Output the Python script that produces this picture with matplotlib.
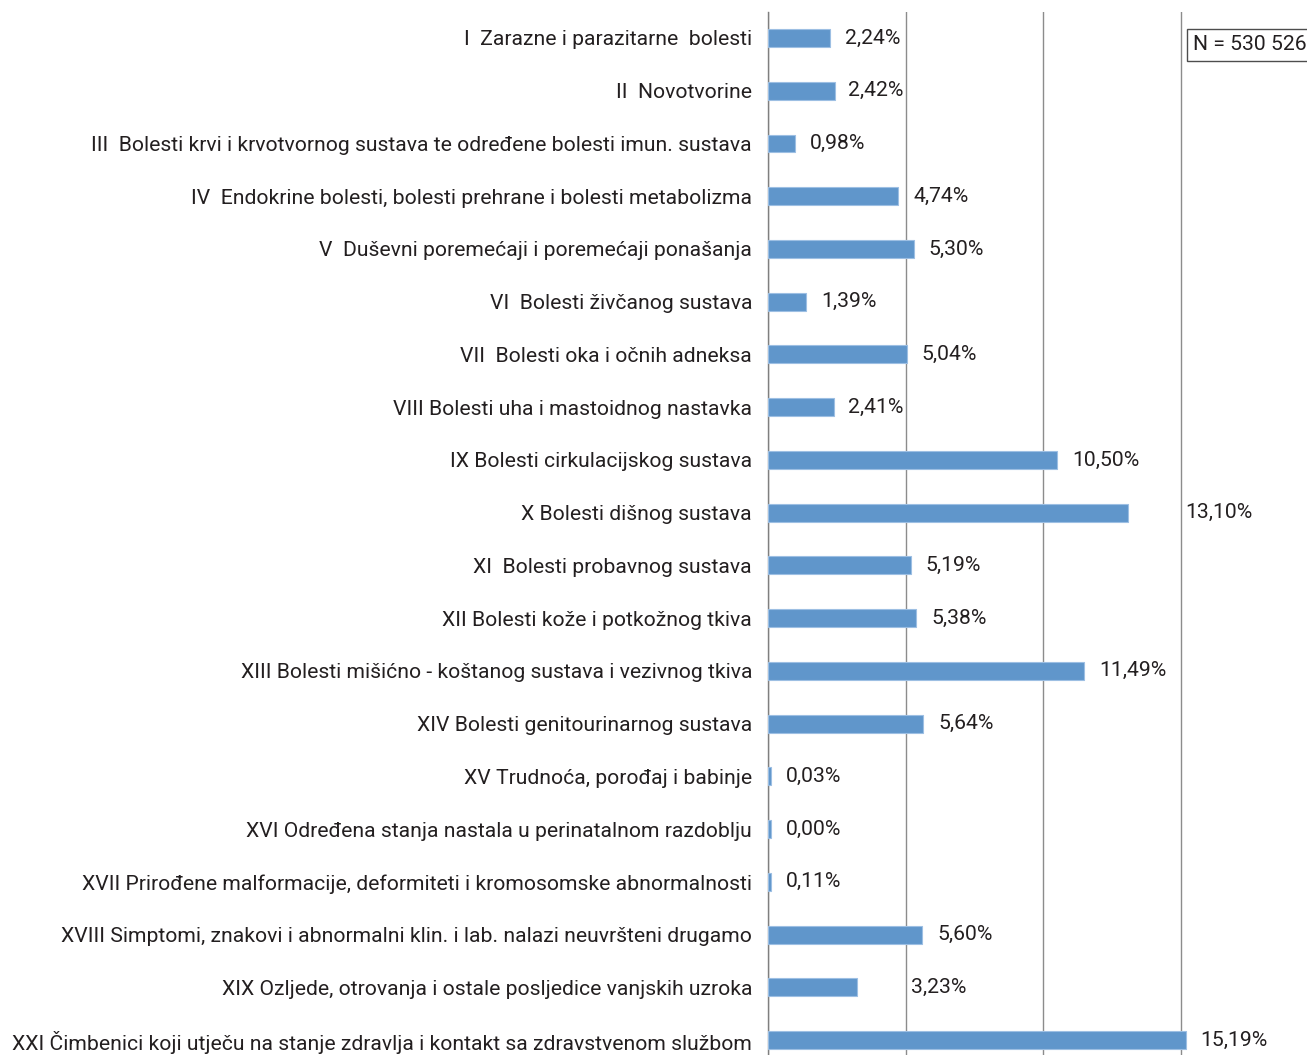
import matplotlib
matplotlib.use("Agg")
import matplotlib.pyplot as plt
from matplotlib.ticker import FixedLocator

plt.rcParams['font.family'] = ['Roboto', 'DejaVu Sans']

categories = [
    "I  Zarazne i parazitarne  bolesti",
    "II  Novotvorine",
    "III  Bolesti krvi i krvotvornog sustava te određene bolesti imun. sustava",
    "IV  Endokrine bolesti, bolesti prehrane i bolesti metabolizma",
    "V  Duševni poremećaji i poremećaji ponašanja",
    "VI  Bolesti živčanog sustava",
    "VII  Bolesti oka i očnih adneksa",
    "VIII Bolesti uha i mastoidnog nastavka",
    "IX Bolesti cirkulacijskog sustava",
    "X Bolesti dišnog sustava",
    "XI  Bolesti probavnog sustava",
    "XII Bolesti kože i potkožnog tkiva",
    "XIII Bolesti mišićno - koštanog sustava i vezivnog tkiva",
    "XIV Bolesti genitourinarnog sustava",
    "XV Trudnoća, porođaj i babinje",
    "XVI Određena stanja nastala u perinatalnom razdoblju",
    "XVII Prirođene malformacije, deformiteti i kromosomske abnormalnosti",
    "XVIII Simptomi, znakovi i abnormalni klin. i lab. nalazi neuvršteni drugamo",
    "XIX Ozljede, otrovanja i ostale posljedice vanjskih uzroka",
    "XXI Čimbenici koji utječu na stanje zdravlja i kontakt sa zdravstvenom službom",
]
values = [2.24, 2.42, 0.98, 4.74, 5.30, 1.39, 5.04, 2.41, 10.50, 13.10,
          5.19, 5.38, 11.49, 5.64, 0.03, 0.00, 0.11, 5.60, 3.23, 15.19]
value_labels = ["2,24%", "2,42%", "0,98%", "4,74%", "5,30%", "1,39%", "5,04%", "2,41%",
                "10,50%", "13,10%", "5,19%", "5,38%", "11,49%", "5,64%", "0,03%",
                "0,00%", "0,11%", "5,60%", "3,23%", "15,19%"]
grid_ticks = [0, 5, 10, 15]
n_text = "N = 530 526"

W, H = 1307, 1055
FS = 15.2
fig = plt.figure(figsize=(W / 100, H / 100), dpi=100)
ax_left = 768 / W
ax_top = 1 - 12 / H
ax = fig.add_axes([ax_left, 0, 1 - ax_left, ax_top])

bar_color = "#6096CB"
y = list(range(len(categories)))
min_vis = 0.12
draw_vals = [max(v, min_vis) for v in values]
ax.barh(y, draw_vals, height=0.34, color=bar_color, edgecolor="#9dbfe3", linewidth=0.8, zorder=3)

ax.set_xlim(0, (W - 768) / 27.5)
ax.set_ylim(19.284, -0.493)

ax.xaxis.set_major_locator(FixedLocator(grid_ticks))
ax.grid(axis="x", color="#8c8c8c", linewidth=1.0, zorder=0)
ax.tick_params(axis="x", length=0, labelbottom=False)
ax.set_yticks(y)
ax.set_yticklabels(categories, fontsize=FS, color="#231f20")
ax.tick_params(axis="y", length=0, pad=11.5)
for s in ["top", "right", "bottom"]:
    ax.spines[s].set_visible(False)
ax.spines["left"].set_color("#7f7f7f")
ax.spines["left"].set_linewidth(1.0)

fig.canvas.draw()
renderer = fig.canvas.get_renderer()
grid_px = [ax.transData.transform((g, 0))[0] for g in grid_ticks[1:]]
for yi, v, lab in zip(y, draw_vals, value_labels):
    t = ax.annotate(lab, xy=(v, yi), xytext=(0, 0), textcoords="offset pixels",
                    ha="left", va="center", fontsize=FS, color="#231f20")
    w = t.get_window_extent(renderer).width
    end_px = ax.transData.transform((v, yi))[0]
    x0 = end_px + 15
    for g in grid_px:
        if x0 - 2 < g < x0 + w + 2:
            if g - w - 2 >= end_px + 8:
                x0 = g - w - 2
            else:
                x0 = g + 5
    t.set_position((x0 - end_px, 0))

fig.text(1193 / W, 1 - 45 / H, n_text, ha="left", va="center", fontsize=FS, color="#231f20",
         bbox=dict(boxstyle="square,pad=0.3", facecolor="white", edgecolor="#4d4d4d", linewidth=1.0))

fig.savefig("out.png", dpi=100)
